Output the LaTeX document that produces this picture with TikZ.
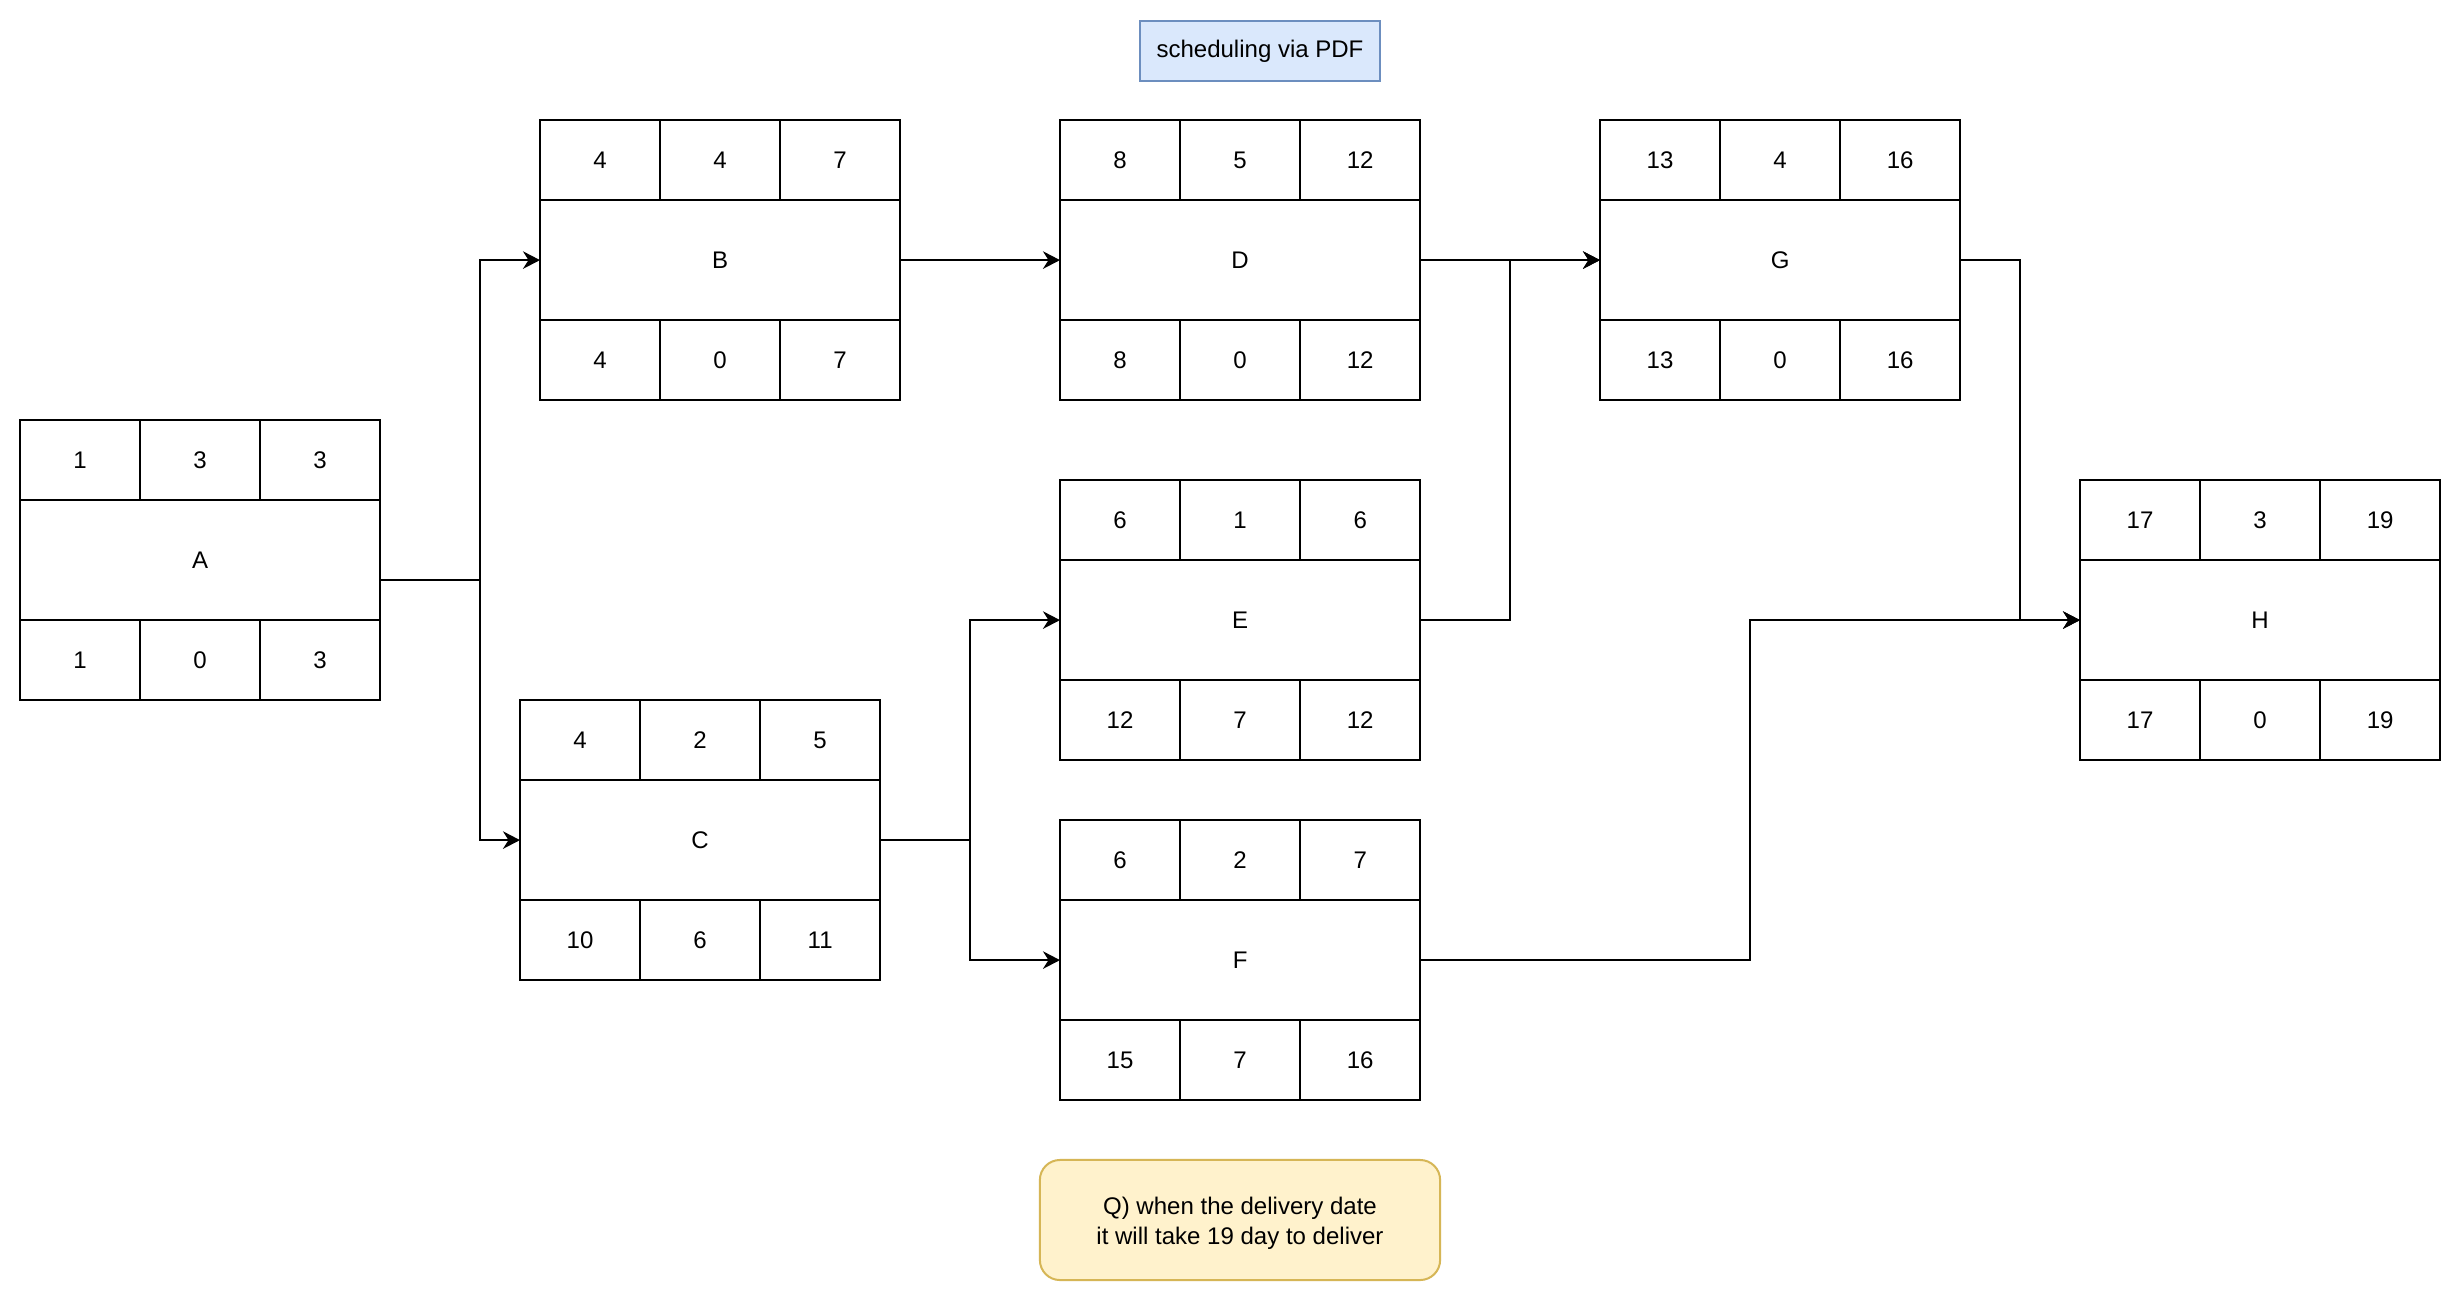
\documentclass[tikz,border=0pt]{standalone}
\usepackage{fontspec}
\setmainfont{Liberation Sans}
\usetikzlibrary{arrows.meta}

\definecolor{titlefill}{HTML}{DAE8FC}
\definecolor{titleline}{HTML}{6C8EBF}
\definecolor{notefill}{HTML}{FFF2CC}
\definecolor{noteline}{HTML}{D6B656}

% One activity box: three cells on top, the activity name in the middle,
% three cells underneath.  Args: name, top-left corner, label, six numbers.
\newcommand{\taskbox}[9]{%
  \node[cell, anchor=north west] (#1-t1) at (#2) {#4};
  \node[cell, anchor=north west] (#1-t2) at (#1-t1.north east) {#5};
  \node[cell, anchor=north west] (#1-t3) at (#1-t2.north east) {#6};
  \node[midcell, anchor=north west] (#1) at (#1-t1.south west) {#3};
  \node[cell, anchor=north west] (#1-b1) at (#1.south west) {#7};
  \node[cell, anchor=north west] (#1-b2) at (#1-b1.north east) {#8};
  \node[cell, anchor=north west] (#1-b3) at (#1-b2.north east) {#9};
}

\begin{document}
\begin{tikzpicture}[x=0.01cm, y=-0.01cm,
  every node/.style={font=\fontsize{6.83pt}{8.2pt}\selectfont, text=black},
  cell/.style={draw=black, line width=0.02cm, minimum width=1.2cm, minimum height=0.8cm,
               inner sep=0pt, outer sep=0pt, fill=white},
  midcell/.style={cell, minimum width=3.6cm, minimum height=1.2cm},
  conn/.style={draw=black, line width=0.02cm,
               -{Stealth[length=0.17cm, width=0.175cm, inset=0.055cm]}},
  titlebox/.style={draw=titleline, fill=titlefill, line width=0.02cm,
                   minimum width=2.4cm, minimum height=0.6cm, inner sep=0pt},
  notebox/.style={draw=noteline, fill=notefill, line width=0.02cm, rounded corners=0.2cm,
                  minimum width=4cm, minimum height=1.2cm, inner sep=0pt},
  notetext/.style={align=center, inner sep=0pt,
                   font=\fontsize{6.83pt}{8.5pt}\selectfont}
]
\fill[white] (0,0) rectangle (2462,1302);
\useasboundingbox (0,0) rectangle (2462,1302);

\node[titlebox] (title) at (1260,51) {scheduling via PDF};

\taskbox{A}{20,420}{A}{1}{3}{3}{1}{0}{3}
\taskbox{B}{540,120}{B}{4}{4}{7}{4}{0}{7}
\taskbox{C}{520,700}{C}{4}{2}{5}{10}{6}{11}
\taskbox{D}{1060,120}{D}{8}{5}{12}{8}{0}{12}
\taskbox{E}{1060,480}{E}{6}{1}{6}{12}{7}{12}
\taskbox{F}{1060,820}{F}{6}{2}{7}{15}{7}{16}
\taskbox{G}{1600,120}{G}{13}{4}{16}{13}{0}{16}
\taskbox{H}{2080,480}{H}{17}{3}{19}{17}{0}{19}

% question note
\node[notebox] (note) at (1240,1220) {};
\node[notetext] (notetxt) at ([yshift=-0.035cm]note.center)
  {Q) when the delivery date\\it will take 19 day to deliver};

% precedence links
\draw[conn] ([yshift=-0.2cm]A.east) -- ++(100,0) |- (B.west);
\draw[conn] ([yshift=-0.2cm]A.east) -- ++(100,0) |- (C.west);
\draw[conn] (B.east) -- (D.west);
\draw[conn] (C.east) -- ++(90,0) |- (E.west);
\draw[conn] (C.east) -- ++(90,0) |- (F.west);
\draw[conn] (D.east) -- (G.west);
\draw[conn] (E.east) -- ++(90,0) |- (G.west);
\draw[conn] (G.east) -- ++(60,0) |- (H.west);
\draw[conn] (F.east) -- ++(330,0) |- (H.west);
\end{tikzpicture}
\end{document}
